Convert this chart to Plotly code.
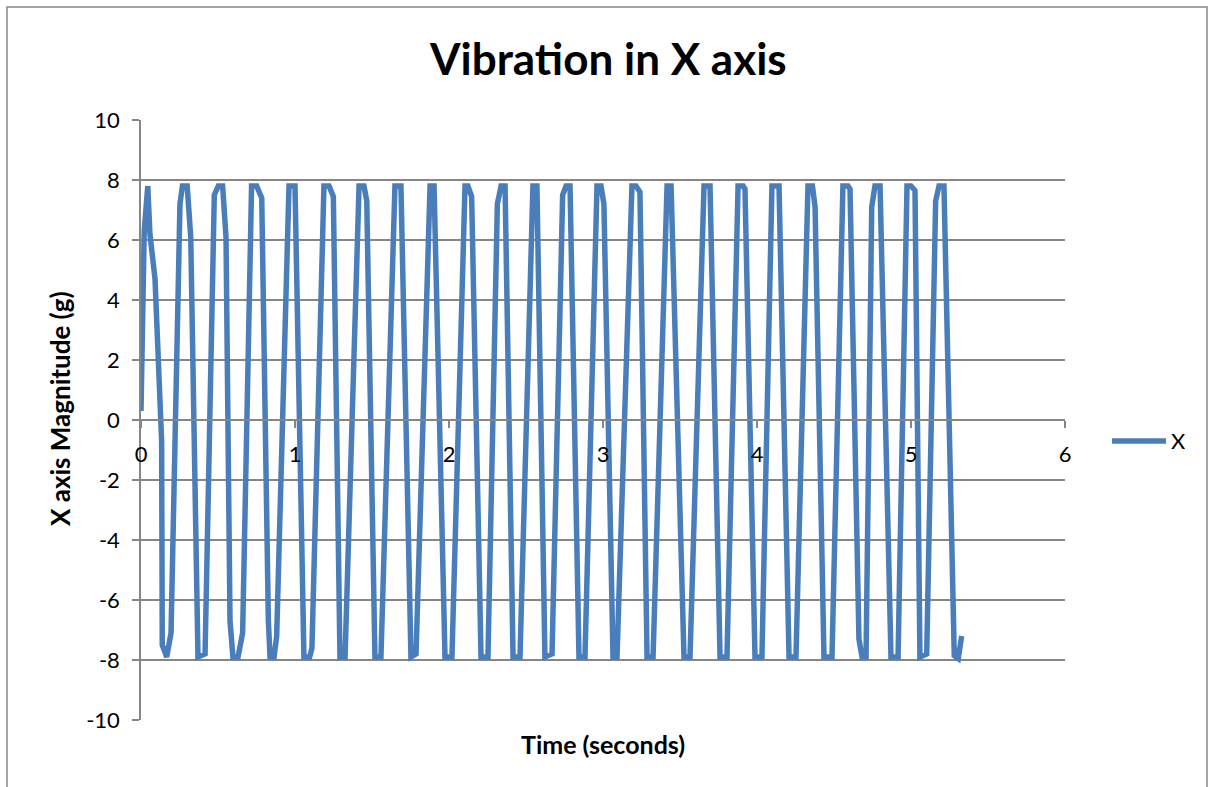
import plotly.graph_objects as go

# Data (Time in seconds, X magnitude in g)
time_s = [
    0.000, 0.021, 0.044, 0.058, 0.091, 0.134, 0.138, 0.167, 0.195, 0.253,
    0.269, 0.300, 0.323, 0.370, 0.416, 0.476, 0.502, 0.530, 0.552, 0.578,
    0.597, 0.630, 0.660, 0.718, 0.751, 0.784, 0.827, 0.838, 0.864, 0.881,
    0.961, 1.000, 1.058, 1.095, 1.110, 1.188, 1.221, 1.249, 1.292, 1.325,
    1.416, 1.448, 1.466, 1.519, 1.558, 1.649, 1.688, 1.753, 1.786, 1.877,
    1.903, 1.974, 2.019, 2.104, 2.123, 2.147, 2.208, 2.253, 2.314, 2.338,
    2.364, 2.416, 2.461, 2.545, 2.571, 2.623, 2.669, 2.738, 2.760, 2.786,
    2.844, 2.883, 2.961, 2.987, 3.006, 3.065, 3.091, 3.188, 3.214, 3.240,
    3.286, 3.325, 3.416, 3.442, 3.526, 3.565, 3.656, 3.695, 3.760, 3.805,
    3.877, 3.910, 3.922, 3.987, 4.032, 4.097, 4.143, 4.208, 4.253, 4.331,
    4.360, 4.377, 4.435, 4.487, 4.558, 4.591, 4.604, 4.662, 4.682, 4.708,
    4.745, 4.766, 4.799, 4.870, 4.916, 4.974, 5.000, 5.026, 5.058, 5.102,
    5.160, 5.182, 5.214, 5.281, 5.307, 5.329,
]
x_magnitude = [
    0.3, 6.3, 7.8, 6.2, 4.7, -0.7, -7.5, -7.9, -7.1, 7.2,
    7.8, 7.8, 6.1, -7.9, -7.8, 7.5, 7.8, 7.8, 6.1, -6.7,
    -7.9, -7.9, -7.1, 7.8, 7.8, 7.4, -6.7, -7.9, -7.9, -7.2,
    7.8, 7.8, -7.9, -7.9, -7.6, 7.8, 7.8, 7.45, -7.9, -7.9,
    7.8, 7.8, 7.3, -7.9, -7.9, 7.8, 7.8, -7.9, -7.8, 7.8,
    7.8, -7.9, -7.9, 7.8, 7.8, 7.45, -7.9, -7.9, 7.2, 7.8,
    7.8, -7.9, -7.9, 7.8, 7.8, -7.9, -7.8, 7.5, 7.8, 7.8,
    -7.9, -7.9, 7.8, 7.8, 7.2, -7.9, -7.9, 7.8, 7.8, 7.6,
    -7.9, -7.9, 7.8, 7.8, -7.9, -7.9, 7.8, 7.8, -7.9, -7.9,
    7.8, 7.8, 7.7, -7.9, -7.9, 7.8, 7.8, -7.9, -7.9, 7.8,
    7.8, 7.1, -7.9, -7.9, 7.8, 7.8, 7.7, -7.3, -7.9, -7.9,
    7.1, 7.8, 7.8, -7.9, -7.9, 7.8, 7.8, 7.65, -7.9, -7.8,
    7.3, 7.8, 7.8, -7.85, -7.95, -7.2,
]
series_name = "X"
x_ticks = [0, 1, 2, 3, 4, 5, 6]
y_ticks = [-10, -8, -6, -4, -2, 0, 2, 4, 6, 8, 10]

FONT = "Lato"
GRID = "#868686"
BLUE = "#4A7EBB"

fig = go.Figure()
fig.add_trace(go.Scatter(
    x=time_s, y=x_magnitude, mode="lines", name=series_name,
    line=dict(color=BLUE, width=5.5), showlegend=False,
))

W, H = 1209, 787
L, R, T, B = 141, 1065, 120, 720
pw, ph = R - L, B - T

def px_x(p):
    return (p - L) / pw

def px_y(p):
    return (B - p) / ph

fig.update_layout(
    width=W, height=H,
    margin=dict(l=L, r=W - R, t=T, b=H - B),
    paper_bgcolor="white", plot_bgcolor="white",
    font=dict(family=FONT, size=22, color="black"),
    xaxis=dict(
        range=[0, 6], tickvals=x_ticks, ticktext=[str(v) for v in x_ticks],
        showgrid=False, zeroline=False,
        showline=True, linecolor=GRID, linewidth=1.5,
        ticks="outside", ticklen=7, tickcolor=GRID, tickwidth=1.5,
        anchor="free", position=0.5, ticklabelstandoff=8,
        tickfont=dict(family=FONT, size=22, color="black"),
    ),
    yaxis=dict(
        range=[-10, 10], tickvals=y_ticks, ticktext=[str(v) for v in y_ticks],
        showgrid=True, gridcolor=GRID, gridwidth=1.5,
        zeroline=False,
        showline=True, linecolor=GRID, linewidth=1.5,
        ticks="outside", ticklen=7, tickcolor=GRID, tickwidth=1.5,
        ticklabelstandoff=8,
        tickfont=dict(family=FONT, size=22, color="black"),
    ),
)

fig.add_annotation(text="<b>Vibration in X axis</b>", xref="paper", yref="paper",
                   x=px_x(608), y=px_y(58), xanchor="center", yanchor="middle",
                   showarrow=False, font=dict(family=FONT, size=44, color="black"))
fig.add_annotation(text="<b>X axis Magnitude (g)</b>", xref="paper", yref="paper",
                   x=px_x(60), y=px_y(409), xanchor="center", yanchor="middle", textangle=-90,
                   showarrow=False, font=dict(family=FONT, size=26, color="black"))
fig.add_annotation(text="<b>Time (seconds)</b>", xref="paper", yref="paper",
                   x=px_x(603), y=px_y(744), xanchor="center", yanchor="middle",
                   showarrow=False, font=dict(family=FONT, size=25, color="black"))

# legend (line sample + label)
fig.add_shape(type="line", xref="paper", yref="paper",
              x0=px_x(1112), x1=px_x(1166), y0=px_y(441), y1=px_y(441),
              line=dict(color=BLUE, width=5.5))
fig.add_annotation(text=series_name, xref="paper", yref="paper",
                   x=px_x(1169), y=px_y(441), xanchor="left", yanchor="middle",
                   showarrow=False, font=dict(family=FONT, size=22, color="black"))

# chart-area border
fig.add_shape(type="rect", xref="paper", yref="paper",
              x0=px_x(7), x1=px_x(1207), y0=px_y(800), y1=px_y(7),
              line=dict(color=GRID, width=1.5), fillcolor="rgba(0,0,0,0)", layer="below")

fig.write_html("out.html", config={"displayModeBar": False},
               post_script="document.body.style.margin='0px';")
